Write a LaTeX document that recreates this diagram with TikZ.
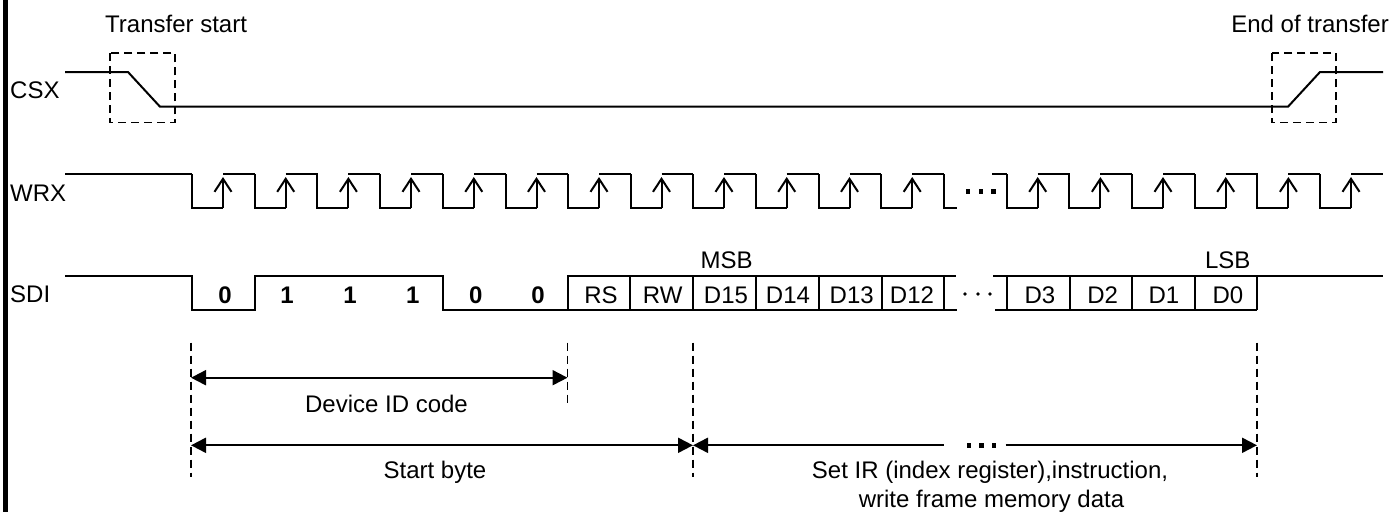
\documentclass[tikz,border=0pt]{standalone}
\usepackage{fontspec}
\setmainfont{Liberation Sans}
\usetikzlibrary{arrows.meta,positioning,calc}
\begin{document}
\begin{tikzpicture}[
  x=1pt,y=-1pt,
  every node/.style={font=\fontsize{24}{28}\selectfont,inner sep=0pt,align=center},
  wave/.style={line width=2pt,black,line join=miter},
  box/.style={line width=1.5pt,black,dash pattern=on 8pt off 5pt},
  guide/.style={line width=1.5pt,black,dash pattern=on 8pt off 5pt},
  tick/.style={line width=2pt,-{Straight Barb[length=13pt,width=17pt,line width=2pt]}},
  span/.style={line width=2pt,black},
  bit/.style={font=\fontsize{24}{28}\selectfont\bfseries},
  sig/.style={anchor=west}
]
\useasboundingbox (0,0) rectangle (1393,512);
\fill[black] (2.7,0) rectangle (7.7,512);
% signal names
\node[sig] (csx) at (10,90.7) {CSX};
\node[sig] (wrx) at (10,193) {WRX};
\node[sig] (sdi) at (10,294) {SDI};
\node[anchor=west] (start) at (105,24) {Transfer start};
\node[anchor=east] (end) at (1389,24) {End of transfer};
% CSX
\draw[wave] (65,72)--(128,72)--(160,106.7)--(1288,106.7)--(1320,72)--(1383,72);
\draw[box] (110,53) rectangle (175,122.7);
\draw[box] (1272,53) rectangle (1336,122.7);
% WRX
\draw[wave] (65,174)--(192,174);
\foreach \f in {192,254.7,317.4,380,442.8,505.5,568,630.5,693,755.7,818.5,881.2,1006.7,1069.4,1132,1194.7,1257.4,1320}{
  \draw[wave] (\f,174)--(\f,208)--(\f+31,208);
  \draw[tick] (\f+31,208)--(\f+31,177);
  \draw[wave] (\f+31,174)--(\f+62.8,174);
}
\draw[wave] (944,174)--(944,208)--(957,208);
\draw[wave] (992,174)--(1006.7,174);
\foreach \x in {968,981,993.7}{\fill (\x-2.3,189.2) rectangle (\x+2.3,193.8);}
% SDI
\draw[wave] (65,275.7)--(192,275.7)--(192,310)--(254.7,310)--(254.7,275.7)--(442.8,275.7)--(442.8,310)--(957,310);
\draw[wave] (567.7,310)--(567.7,275.7)--(955.7,275.7);
\foreach \x in {630.3,693,755.7,818.7,882,944}{\draw[wave] (\x,275.7)--(\x,310);}
\draw[wave] (993,275.7)--(1383,275.7);
\draw[wave] (995,310)--(1257.4,310);
\foreach \x in {1006.7,1069.7,1132,1194.7,1257.4}{\draw[wave] (\x,275.7)--(\x,310);}
\foreach \x in {965,978,990}{\fill (\x,294) circle (1.8);}
\foreach \x/\b/\n in {225/0/a,287/1/b,350/1/c,412.7/1/d,475.7/0/e,538/0/f}{\node[bit] (bit\n) at (\x,295) {\b};}
\foreach \x/\t in {601/RS,662.7/RW,726/D15,788/D14,851.7/D13,912/D12,1040/D3,1102.7/D2,1164/D1,1228/D0}{\node (\t) at (\x,295) {\t};}
\node (msb) at (726.7,260.7) {MSB};
\node (lsb) at (1227.7,260.7) {LSB};
% spans
\coordinate (g1t) at (191,342.7);
\coordinate (g1b) at (191,476.7);
\coordinate (g2t) at (567.5,342.7);
\coordinate (g2b) at (567.5,406.7);
\coordinate (g3t) at (693,342.7);
\coordinate (g3b) at (693,476.7);
\coordinate (g4t) at (1257,342.7);
\coordinate (g4b) at (1257,476.7);
\draw[guide] (g1t)--(g1b);
\draw[guide] (g2t)--(g2b);
\draw[guide] (g3t)--(g3b);
\draw[guide] (g4t)--(g4b);
\coordinate (idl) at (191,377.7);
\coordinate (idr) at (567.5,377.7);
\coordinate (sbl) at (191,445.3);
\coordinate (sbr) at (693,445.3);
\coordinate (irl) at (693,445.3);
\coordinate (irm) at (944.4,445.3);
\coordinate (irn) at (1005.6,445.3);
\coordinate (irr) at (1257,445.3);
\draw[span,{Triangle[length=15pt,width=15pt]}-{Triangle[length=15pt,width=15pt]}] (idl)--(idr);
\draw[span,{Triangle[length=15pt,width=15pt]}-{Triangle[length=15pt,width=15pt]}] (sbl)--(sbr);
\draw[span,{Triangle[length=15pt,width=15pt]}-] (irl)--(irm);
\draw[span,-{Triangle[length=15pt,width=15pt]}] (irn)--(irr);
\foreach \x in {969,981.5,993.8}{\fill (\x-2.3,443) rectangle (\x+2.3,447.6);}
\node (idcode) at (386.5,404) {Device ID code};
\node (sbyte) at (435,472.5) {Start byte};
\node (setir) at (990,472.5) {Set IR (index register),instruction,};
\node (wrmem) at (991.5,501.7) {write frame memory data};
\end{tikzpicture}
\end{document}
